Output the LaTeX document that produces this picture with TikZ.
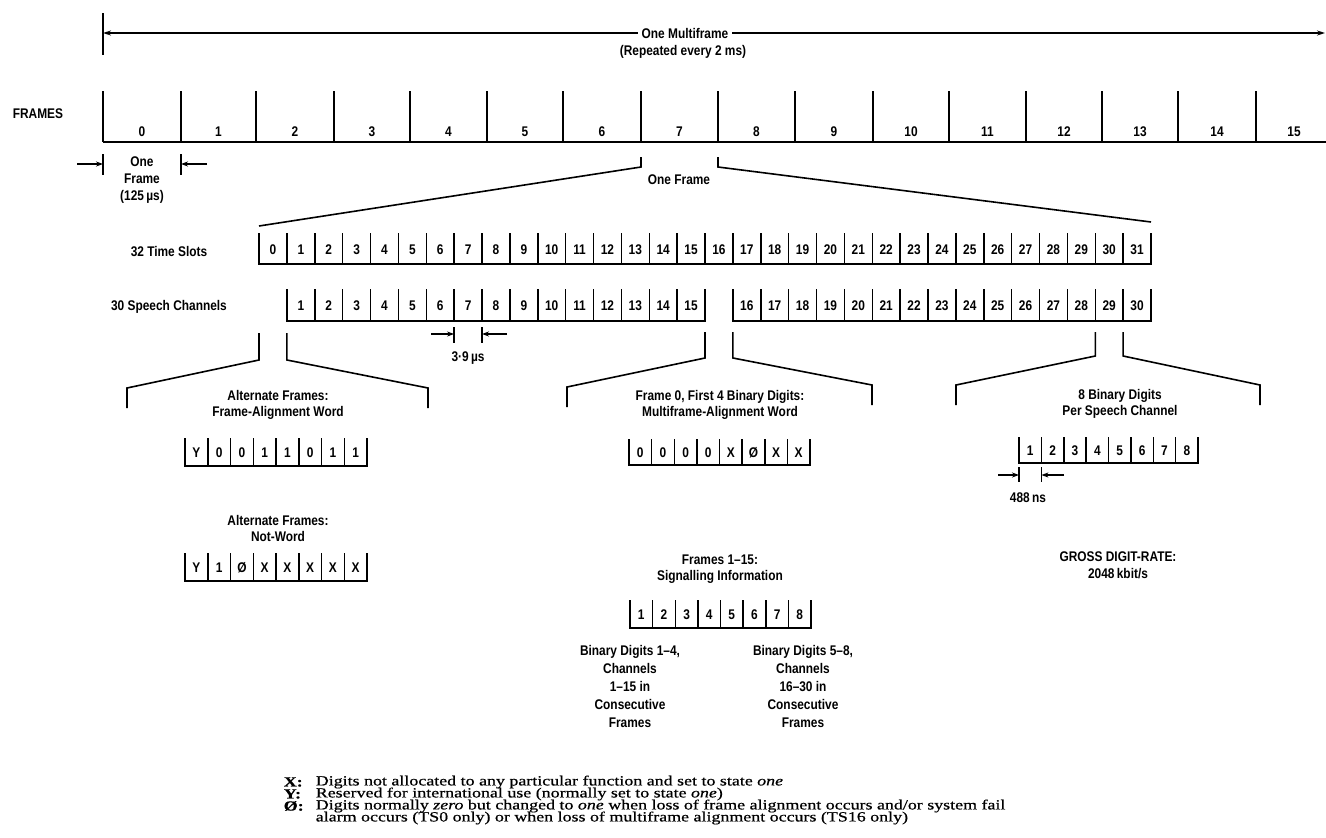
\documentclass[tikz,border=0pt]{standalone}
\usepackage{fontspec}
\setmainfont{Liberation Sans}[FakeStretch=0.85]
\newfontfamily\legendfont{Liberation Serif}[FakeStretch=1.28,FakeBold=0.6]
\usetikzlibrary{arrows.meta}

\begin{document}
\begin{tikzpicture}[x=1pt,y=-1pt,line width=1.6pt,>=Stealth,
  font=\fontsize{14}{16}\selectfont\bfseries,
  lbl/.style={inner sep=0pt,align=center},
  digit/.style={inner sep=0pt},
  dim/.style={->,line width=1.3pt,>={Stealth[length=7pt,width=5pt]}},
  legend/.style={anchor=west,inner sep=0pt,font=\legendfont\fontsize{14}{12}\selectfont}]
\useasboundingbox (0,0) rectangle (1326,838);
% multiframe
\node[lbl,inner xsep=3pt] (mf) at (685,33) {One Multiframe};
\node[lbl] (rep) at (683,52) {(Repeated every 2 ms)};
\coordinate (mfl) at (103,33);
\coordinate (mfr) at (1325,33);
\draw (103,13) -- (103,55);
\draw[->,>={Stealth[length=8pt,width=5pt]}] (mf.west) -- (mfl);
\draw[->,>={Stealth[length=8pt,width=5pt]}] (mf.east) -- (mfr);
% frames
\node[lbl] (frames) at (38,114) {FRAMES};
\draw (103,91)--(103,142) (181,91)--(181,142) (256,91)--(256,142) (334,91)--(334,142)
      (410,91)--(410,142) (487,91)--(487,142) (563,91)--(563,142) (641,91)--(641,142)
      (718,91)--(718,142) (795,91)--(795,142) (873,91)--(873,142) (949,91)--(949,142)
      (1026,91)--(1026,142) (1102,91)--(1102,142) (1178,91)--(1178,142) (1256,91)--(1256,142);
\draw (103,142) -- (1326,142);
\node[digit] (f0) at (142,132) {0};
\node[digit] (f1) at (218.5,132) {1};
\node[digit] (f2) at (295,132) {2};
\node[digit] (f3) at (372,132) {3};
\node[digit] (f4) at (448.5,132) {4};
\node[digit] (f5) at (525,132) {5};
\node[digit] (f6) at (602,132) {6};
\node[digit] (f7) at (679.5,132) {7};
\node[digit] (f8) at (756.5,132) {8};
\node[digit] (f9) at (834,132) {9};
\node[digit] (f10) at (911,132) {10};
\node[digit] (f11) at (987.5,132) {11};
\node[digit] (f12) at (1064,132) {12};
\node[digit] (f13) at (1140,132) {13};
\node[digit] (f14) at (1217,132) {14};
\node[digit] (f15) at (1294,132) {15};
% one frame = 125 us
\draw (103,154) -- (103,175);
\draw (181,154) -- (181,175);
\coordinate (ofa) at (77,164);
\coordinate (ofl) at (103,164);
\coordinate (ofb) at (207,164);
\coordinate (ofr) at (181,164);
\draw[dim] (ofa) -- (ofl);
\draw[dim] (ofb) -- (ofr);
\node[lbl,font=\fontsize{14}{17}\selectfont\bfseries] (oneframe) at (142,180) {One\\Frame\\(125\,µs)};
% frame 7 opened out
\node[lbl] (of7) at (679,180) {One Frame};
\coordinate (b7l) at (641,157);
\coordinate (b7lk) at (641,167);
\coordinate (b7r) at (718,157);
\coordinate (b7rk) at (718,167);
\coordinate (tsl) at (259,226);
\coordinate (tsr) at (1151,222);
\draw (b7l) -- (b7lk) -- (tsl);
\draw (b7r) -- (b7rk) -- (tsr);
% 32 time slots
\node[lbl] (tslabel) at (169,252) {32 Time Slots};
\draw (259,233) -- (259,264) -- (1151,264) -- (1151,233);
\draw (286.9,233)--(286.9,264) (314.8,233)--(314.8,264) (342.6,233)--(342.6,264) (370.5,233)--(370.5,264)
      (398.4,233)--(398.4,264) (426.3,233)--(426.3,264) (454.1,233)--(454.1,264) (482,233)--(482,264)
      (509.9,233)--(509.9,264) (537.8,233)--(537.8,264) (565.6,233)--(565.6,264) (593.5,233)--(593.5,264)
      (621.4,233)--(621.4,264) (649.3,233)--(649.3,264) (677.1,233)--(677.1,264) (705,233)--(705,264)
      (732.9,233)--(732.9,264) (760.8,233)--(760.8,264) (788.6,233)--(788.6,264) (816.5,233)--(816.5,264)
      (844.4,233)--(844.4,264) (872.3,233)--(872.3,264) (900.1,233)--(900.1,264) (928,233)--(928,264)
      (955.9,233)--(955.9,264) (983.8,233)--(983.8,264) (1011.6,233)--(1011.6,264) (1039.5,233)--(1039.5,264)
      (1067.4,233)--(1067.4,264) (1095.3,233)--(1095.3,264) (1123.1,233)--(1123.1,264);
\node[digit] (ts0) at (272.94,250) {0};
\node[digit] (ts1) at (300.81,250) {1};
\node[digit] (ts2) at (328.69,250) {2};
\node[digit] (ts3) at (356.56,250) {3};
\node[digit] (ts4) at (384.44,250) {4};
\node[digit] (ts5) at (412.31,250) {5};
\node[digit] (ts6) at (440.19,250) {6};
\node[digit] (ts7) at (468.06,250) {7};
\node[digit] (ts8) at (495.94,250) {8};
\node[digit] (ts9) at (523.81,250) {9};
\node[digit] (ts10) at (551.69,250) {10};
\node[digit] (ts11) at (579.56,250) {11};
\node[digit] (ts12) at (607.44,250) {12};
\node[digit] (ts13) at (635.31,250) {13};
\node[digit] (ts14) at (663.19,250) {14};
\node[digit] (ts15) at (691.06,250) {15};
\node[digit] (ts16) at (718.94,250) {16};
\node[digit] (ts17) at (746.81,250) {17};
\node[digit] (ts18) at (774.69,250) {18};
\node[digit] (ts19) at (802.56,250) {19};
\node[digit] (ts20) at (830.44,250) {20};
\node[digit] (ts21) at (858.31,250) {21};
\node[digit] (ts22) at (886.19,250) {22};
\node[digit] (ts23) at (914.06,250) {23};
\node[digit] (ts24) at (941.94,250) {24};
\node[digit] (ts25) at (969.81,250) {25};
\node[digit] (ts26) at (997.69,250) {26};
\node[digit] (ts27) at (1025.56,250) {27};
\node[digit] (ts28) at (1053.44,250) {28};
\node[digit] (ts29) at (1081.31,250) {29};
\node[digit] (ts30) at (1109.19,250) {30};
\node[digit] (ts31) at (1137.06,250) {31};
% 30 speech channels
\node[lbl] (sclabel) at (169,307) {30 Speech Channels};
\draw (286.9,289) -- (286.9,321) -- (705,321) -- (705,289);
\draw (732.9,289) -- (732.9,321) -- (1151,321) -- (1151,289);
\draw (314.8,289)--(314.8,321) (342.6,289)--(342.6,321) (370.5,289)--(370.5,321) (398.4,289)--(398.4,321)
      (426.3,289)--(426.3,321) (454.1,289)--(454.1,321) (482,289)--(482,321) (509.9,289)--(509.9,321)
      (537.8,289)--(537.8,321) (565.6,289)--(565.6,321) (593.5,289)--(593.5,321) (621.4,289)--(621.4,321)
      (649.3,289)--(649.3,321) (677.1,289)--(677.1,321);
\draw (760.8,289)--(760.8,321) (788.6,289)--(788.6,321) (816.5,289)--(816.5,321) (844.4,289)--(844.4,321)
      (872.3,289)--(872.3,321) (900.1,289)--(900.1,321) (928,289)--(928,321) (955.9,289)--(955.9,321)
      (983.8,289)--(983.8,321) (1011.6,289)--(1011.6,321) (1039.5,289)--(1039.5,321) (1067.4,289)--(1067.4,321)
      (1095.3,289)--(1095.3,321) (1123.1,289)--(1123.1,321);
\node[digit] (sc1) at (300.81,306) {1};
\node[digit] (sc2) at (328.69,306) {2};
\node[digit] (sc3) at (356.56,306) {3};
\node[digit] (sc4) at (384.44,306) {4};
\node[digit] (sc5) at (412.31,306) {5};
\node[digit] (sc6) at (440.19,306) {6};
\node[digit] (sc7) at (468.06,306) {7};
\node[digit] (sc8) at (495.94,306) {8};
\node[digit] (sc9) at (523.81,306) {9};
\node[digit] (sc10) at (551.69,306) {10};
\node[digit] (sc11) at (579.56,306) {11};
\node[digit] (sc12) at (607.44,306) {12};
\node[digit] (sc13) at (635.31,306) {13};
\node[digit] (sc14) at (663.19,306) {14};
\node[digit] (sc15) at (691.06,306) {15};
\node[digit] (sc16) at (746.81,306) {16};
\node[digit] (sc17) at (774.69,306) {17};
\node[digit] (sc18) at (802.56,306) {18};
\node[digit] (sc19) at (830.44,306) {19};
\node[digit] (sc20) at (858.31,306) {20};
\node[digit] (sc21) at (886.19,306) {21};
\node[digit] (sc22) at (914.06,306) {22};
\node[digit] (sc23) at (941.94,306) {23};
\node[digit] (sc24) at (969.81,306) {24};
\node[digit] (sc25) at (997.69,306) {25};
\node[digit] (sc26) at (1025.56,306) {26};
\node[digit] (sc27) at (1053.44,306) {27};
\node[digit] (sc28) at (1081.31,306) {28};
\node[digit] (sc29) at (1109.19,306) {29};
\node[digit] (sc30) at (1137.06,306) {30};
% 3.9 us
\draw (454.1,327) -- (454.1,343);
\draw (482,327) -- (482,343);
\coordinate (cha) at (431,334);
\coordinate (chl) at (454.1,334);
\coordinate (chb) at (507,334);
\coordinate (chr) at (482,334);
\draw[dim] (cha) -- (chl);
\draw[dim] (chb) -- (chr);
\node[lbl] (t39) at (468,358) {3·9\,µs};
% brackets
\draw (259,333) -- (259,360) -- (127,388) -- (127,408);
\draw (286.9,333) -- (286.9,360) -- (428,388) -- (428,408);
\draw (705,332) -- (705,358) -- (567,387) -- (567,407);
\draw (732.9,332) -- (732.9,358) -- (872,385) -- (872,405);
\draw (1095.3,332) -- (1095.3,356) -- (956,385) -- (956,405);
\draw (1123.1,332) -- (1123.1,356) -- (1260,385) -- (1260,405);
% TS0
\node[lbl] (fawt) at (278,405) {Alternate Frames:\\Frame-Alignment Word};
\draw (185,438) -- (185,466) -- (367,466) -- (367,438);
\draw (207.8,438)--(207.8,466) (230.5,438)--(230.5,466) (253.3,438)--(253.3,466) (276,438)--(276,466)
      (298.8,438)--(298.8,466) (321.5,438)--(321.5,466) (344.3,438)--(344.3,466);
\node[digit] (fa1) at (196.4,453) {Y};
\node[digit] (fa2) at (219.1,453) {0};
\node[digit] (fa3) at (241.9,453) {0};
\node[digit] (fa4) at (264.6,453) {1};
\node[digit] (fa5) at (287.4,453) {1};
\node[digit] (fa6) at (310.1,453) {0};
\node[digit] (fa7) at (332.9,453) {1};
\node[digit] (fa8) at (355.6,453) {1};
\node[lbl] (nwt) at (278,528) {Alternate Frames:\\Not-Word};
\draw (185,553) -- (185,581) -- (367,581) -- (367,553);
\draw (207.8,553)--(207.8,581) (230.5,553)--(230.5,581) (253.3,553)--(253.3,581) (276,553)--(276,581)
      (298.8,553)--(298.8,581) (321.5,553)--(321.5,581) (344.3,553)--(344.3,581);
\node[digit] (nw1) at (196.4,568) {Y};
\node[digit] (nw2) at (219.1,568) {1};
\node[digit] (nw3) at (241.9,568) {Ø};
\node[digit] (nw4) at (264.6,568) {X};
\node[digit] (nw5) at (287.4,568) {X};
\node[digit] (nw6) at (310.1,568) {X};
\node[digit] (nw7) at (332.9,568) {X};
\node[digit] (nw8) at (355.6,568) {X};
% TS16
\node[lbl] (mwt) at (720,405) {Frame 0, First 4 Binary Digits:\\Multiframe-Alignment Word};
\draw (629,439) -- (629,465) -- (810,465) -- (810,439);
\draw (651.6,439)--(651.6,465) (674.3,439)--(674.3,465) (696.9,439)--(696.9,465) (719.5,439)--(719.5,465)
      (742.1,439)--(742.1,465) (764.8,439)--(764.8,465) (787.4,439)--(787.4,465);
\node[digit] (mw1) at (640.3,453) {0};
\node[digit] (mw2) at (663,453) {0};
\node[digit] (mw3) at (685.6,453) {0};
\node[digit] (mw4) at (708.2,453) {0};
\node[digit] (mw5) at (730.8,453) {X};
\node[digit] (mw6) at (753.4,453) {Ø};
\node[digit] (mw7) at (776.1,453) {X};
\node[digit] (mw8) at (798.7,453) {X};
\node[lbl] (sgt) at (720,569) {Frames 1--15:\\Signalling Information};
\draw (630,600) -- (630,628) -- (811,628) -- (811,600);
\draw (652.6,600)--(652.6,628) (675.3,600)--(675.3,628) (697.9,600)--(697.9,628) (720.5,600)--(720.5,628)
      (743.1,600)--(743.1,628) (765.8,600)--(765.8,628) (788.4,600)--(788.4,628);
\node[digit] (sg1) at (641.3,615) {1};
\node[digit] (sg2) at (664,615) {2};
\node[digit] (sg3) at (686.6,615) {3};
\node[digit] (sg4) at (709.2,615) {4};
\node[digit] (sg5) at (731.8,615) {5};
\node[digit] (sg6) at (754.4,615) {6};
\node[digit] (sg7) at (777.1,615) {7};
\node[digit] (sg8) at (799.7,615) {8};
\node[lbl,font=\fontsize{14}{18}\selectfont\bfseries] (sgl) at (630,686) {Binary Digits 1--4,\\Channels\\1--15 in\\Consecutive\\Frames};
\node[lbl,font=\fontsize{14}{18}\selectfont\bfseries] (sgr) at (803,686) {Binary Digits 5--8,\\Channels\\16--30 in\\Consecutive\\Frames};
% channel 29
\node[lbl] (bdt) at (1120,404) {8 Binary Digits\\Per Speech Channel};
\draw (1019,437) -- (1019,463) -- (1198,463) -- (1198,437);
\draw (1041.4,437)--(1041.4,463) (1063.8,437)--(1063.8,463) (1086.1,437)--(1086.1,463) (1108.5,437)--(1108.5,463)
      (1130.9,437)--(1130.9,463) (1153.3,437)--(1153.3,463) (1175.6,437)--(1175.6,463);
\node[digit] (bd1) at (1030.2,451) {1};
\node[digit] (bd2) at (1052.6,451) {2};
\node[digit] (bd3) at (1075,451) {3};
\node[digit] (bd4) at (1097.3,451) {4};
\node[digit] (bd5) at (1119.7,451) {5};
\node[digit] (bd6) at (1142.1,451) {6};
\node[digit] (bd7) at (1164.5,451) {7};
\node[digit] (bd8) at (1186.8,451) {8};
\draw (1019,467) -- (1019,482);
\draw (1041.4,467) -- (1041.4,482);
\coordinate (nsa) at (998,475);
\coordinate (nsl) at (1019,475);
\coordinate (nsb) at (1064,475);
\coordinate (nsr) at (1041.4,475);
\draw[dim] (nsa) -- (nsl);
\draw[dim] (nsb) -- (nsr);
\node[lbl] (t488) at (1028,498) {488\,ns};
\node[lbl,font=\fontsize{14}{17}\selectfont\bfseries] (gross) at (1118,565) {GROSS DIGIT-RATE:\\2048\,kbit/s};
% key
\node[legend] (kx) at (283,782) {\bfseries X:};
\node[legend] (tx) at (315,782) {Digits not allocated to any particular function and set to state \textit{one}};
\node[legend] (ky) at (283,794) {\bfseries Y:};
\node[legend] (ty) at (315,794) {Reserved for international use (normally set to state \textit{one})};
\node[legend] (kz) at (283,806) {\bfseries Ø:};
\node[legend] (tz) at (315,806) {Digits normally \textit{zero} but changed to \textit{one} when loss of frame alignment occurs and/or system fail};
\node[legend] (tz2) at (315,818) {alarm occurs (TS0 only) or when loss of multiframe alignment occurs (TS16 only)};
\end{tikzpicture}
\end{document}
